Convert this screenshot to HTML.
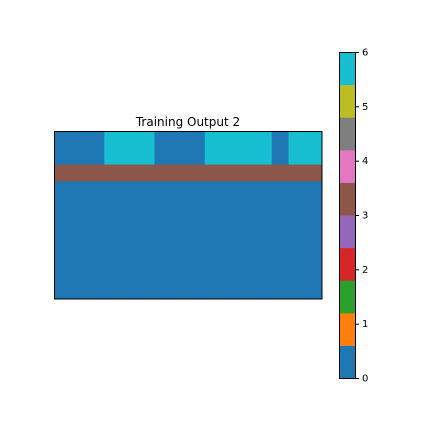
<!DOCTYPE html>
<html><head><meta charset="utf-8"><style>
body{margin:0;background:#fff;}
svg text{font-family:"DejaVu Sans","Liberation Sans",sans-serif;}
</style></head><body>
<svg id="chart" width="432" height="432" viewBox="0 0 432 432" xmlns="http://www.w3.org/2000/svg">
<rect width="432" height="432" fill="#fff"/>
<text x="188" y="126" font-size="12" text-anchor="middle" fill="#000">Training Output 2</text>
<g id="grid"></g>
<rect x="54.5" y="131.5" width="267.5" height="167.5" fill="none" stroke="#000" stroke-width="1"/>
<g id="cbar"></g>
</svg>
<script>
const palette = ["#1f77b4","#ff7f0e","#2ca02c","#d62728","#9467bd","#8c564b","#e377c2","#7f7f7f","#bcbd22","#17becf"];
const topRow = [0,0,0,9,9,9,0,0,0,9,9,9,9,0,9,9];
const brownRow = [5,5,5,5,5,5,5,5,5,5,5,5,5,5,5,5];
const blankRow = [0,0,0,0,0,0,0,0,0,0,0,0,0,0,0,0];
const gridRows = [topRow, topRow, brownRow, blankRow, blankRow, blankRow, blankRow, blankRow, blankRow, blankRow];
const cbarColors = ["#1f77b4","#ff7f0e","#2ca02c","#d62728","#9467bd","#8c564b","#e377c2","#7f7f7f","#bcbd22","#17becf"];
const cbarTicks = [0,1,2,3,4,5,6];
const cbarMin = 0, cbarMax = 6;

const NS = "http://www.w3.org/2000/svg";
const gx0 = 54, gy0 = 131, gw = 268, gh = 168;
const nCols = gridRows[0].length, nRows = gridRows.length;
const xCell = c => gx0 + c * gw / nCols;
const yCell = r => gy0 + r * gh / nRows;
const grid = document.getElementById('grid');
gridRows.forEach((row, r) => row.forEach((v, c) => {
  const el = document.createElementNS(NS, 'rect');
  
  
  el.setAttribute('x', xCell(c));
  el.setAttribute('y', yCell(r));
  el.setAttribute('width', gw / nCols + 0.5);
  el.setAttribute('height', gh / nRows + 0.5);
  el.setAttribute('fill', palette[v]);
  grid.appendChild(el);
}));

const cx = 339, cy0 = 52, cw = 16, ch = 326;
const yBar = v => cy0 + ch - (v - cbarMin) / (cbarMax - cbarMin) * ch;
const cbar = document.getElementById('cbar');
const nBands = cbarColors.length;
for (let i = 0; i < nBands; i++) {
  const el = document.createElementNS(NS, 'rect');
  
  
  const t = cy0 + ch - (i + 1) * ch / nBands;
  el.setAttribute('x', cx);
  el.setAttribute('y', t);
  el.setAttribute('width', cw);
  el.setAttribute('height', ch / nBands + 0.5);
  el.setAttribute('fill', cbarColors[i]);
  cbar.appendChild(el);
}
const frame = document.createElementNS(NS, 'rect');


frame.setAttribute('x', cx + 0.5); frame.setAttribute('y', cy0 + 0.5);
frame.setAttribute('width', cw); frame.setAttribute('height', ch);
frame.setAttribute('fill', 'none'); frame.setAttribute('stroke', '#000');
cbar.appendChild(frame);
cbarTicks.forEach(t => {
  const y = yBar(t);
  const ln = document.createElementNS(NS, 'line');
  
  
  ln.setAttribute('x1', cx + cw + 0.5); ln.setAttribute('x2', cx + cw + 4);
  ln.setAttribute('y1', y + 0.5); ln.setAttribute('y2', y + 0.5);
  ln.setAttribute('stroke', '#000');
  cbar.appendChild(ln);
  const tx = document.createElementNS(NS, 'text');
  
  
  tx.setAttribute('x', cx + cw + 7); tx.setAttribute('y', y + 3.5);
  tx.setAttribute('font-size', '10');
  tx.textContent = t;
  cbar.appendChild(tx);
});
</script>
</body></html>
